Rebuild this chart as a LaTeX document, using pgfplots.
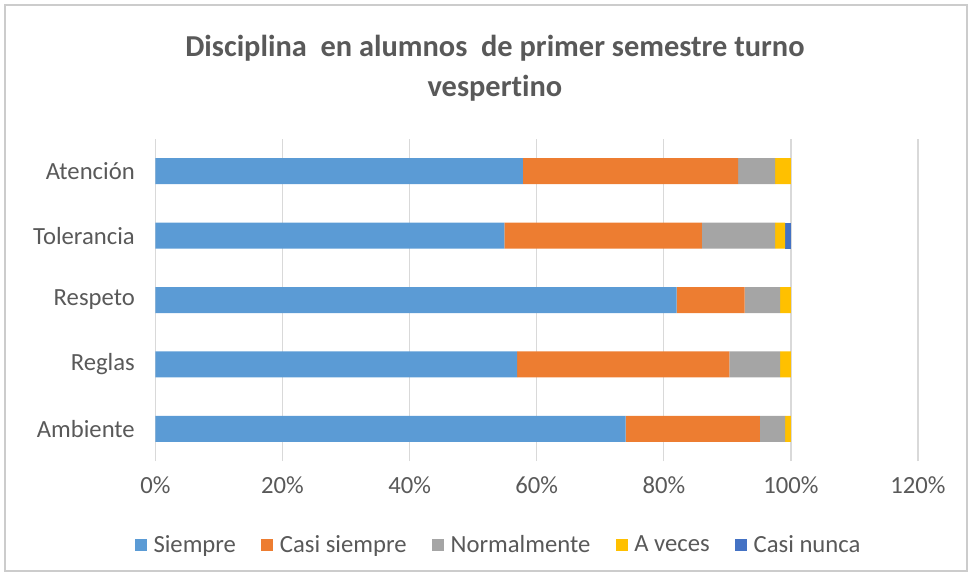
\documentclass[border=0pt]{standalone}
\usepackage{pgfplots}
\pgfplotsset{compat=1.18}
\usepackage{fontspec}
\setmainfont{Carlito}[Ligatures=NoCommon]

\definecolor{cSiempre}{HTML}{5B9BD5}
\definecolor{cCasiSiempre}{HTML}{ED7D31}
\definecolor{cNormal}{HTML}{A5A5A5}
\definecolor{cAveces}{HTML}{FFC000}
\definecolor{cCasiNunca}{HTML}{4472C4}
\definecolor{txt}{HTML}{595959}

\begin{document}
\begin{tikzpicture}
\begin{axis}[
    at={(0pt,0pt)}, anchor=south west,
    scale only axis,
    width=571.9pt, height=241.5pt,
    clip=false,
    xbar stacked,
    bar width=19.5pt,
    xmin=0, xmax=120,
    xtick={0,20,...,120},
    xticklabel={\pgfmathprintnumber{\tick}\%},
    ymin=-0.5, ymax=4.5,
    ytick={0,1,2,3,4},
    yticklabels={Ambiente,Reglas,Respeto,Tolerancia,Atención},
    xmajorgrids,
    grid style={draw=black!15, line width=0.9pt},
    axis line style={draw=none},
    tick style={draw=none},
    /pgf/number format/assume math mode=true,
    ticklabel style={font=\fontsize{18.5}{20}\selectfont, text=txt},
    xticklabel style={yshift=-8pt},
    yticklabel style={xshift=-12pt},
    legend style={
        at={(0.4505,-0.261)}, anchor=center,
        draw=none, legend columns=-1,
        font=\fontsize{18.5}{20}\selectfont, text=txt,
        /tikz/every odd column/.append style={column sep=3pt},
        /tikz/every even column/.append style={column sep=17pt},
    },
    legend image code/.code={\fill[#1] (0pt,-4.5pt) rectangle (9pt,4.5pt);},
]
\addplot[fill=cSiempre, draw=none] coordinates {(74.0,0) (56.9,1) (82.0,2) (54.9,3) (57.8,4)};
\addplot[fill=cCasiSiempre, draw=none] coordinates {(21.1,0) (33.4,1) (10.7,2) (31.1,3) (33.9,4)};
\addplot[fill=cNormal, draw=none] coordinates {(4.0,0) (8.0,1) (5.6,2) (11.5,3) (5.8,4)};
\addplot[fill=cAveces, draw=none] coordinates {(0.9,0) (1.7,1) (1.7,2) (1.6,3) (2.5,4)};
\addplot[fill=cCasiNunca, draw=none] coordinates {(0,0) (0,1) (0,2) (0.9,3) (0,4)};
\legend{Siempre, Casi siempre, Normalmente, A veces, Casi nunca}
\node[font=\bfseries\fontsize{22.8}{30}\selectfont, text=txt, align=center]
    at (rel axis cs:0.4452,1.2205)
    {Disciplina\ \ en alumnos\ \ de primer semestre turno\\vespertino};
\end{axis}
\draw[black!20, line width=1pt] (-112.9pt,-82.5pt) rectangle (608.6pt,342pt);
\pgfresetboundingbox
\path[use as bounding box] (-116.6pt,-86.25pt) rectangle (612.4pt,345.75pt);
\end{tikzpicture}
\end{document}
